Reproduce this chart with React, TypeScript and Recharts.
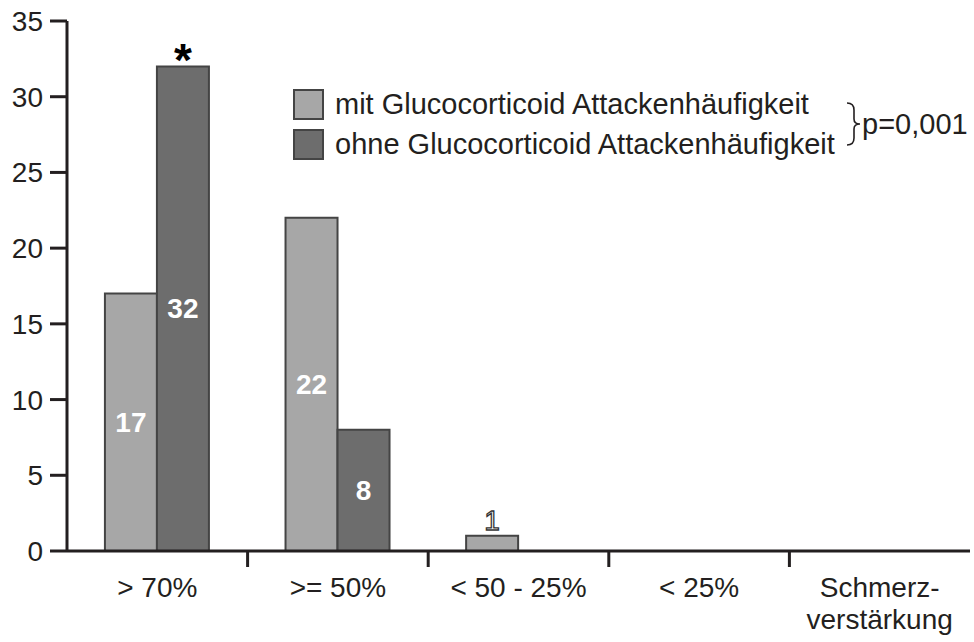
import React from 'react';
import { BarChart, Bar, XAxis, YAxis, Legend, LabelList } from 'recharts';

const categories = ['> 70%', '>= 50%', '< 50 - 25%', '< 25%', 'Schmerz-\nverstärkung'];
const mitValues = [17, 22, 1, 0, 0];
const ohneValues = [32, 8, 0, 0, 0];
const ohneMarks = ['*', '', '', '', ''];
const yTicks = [0, 5, 10, 15, 20, 25, 30, 35];
const seriesNames = ['mit Glucocorticoid Attackenhäufigkeit', 'ohne Glucocorticoid Attackenhäufigkeit'];
const pValue = 'p=0,001';

const W = 974;
const H = 642;
const MARGIN = { top: 21, right: 4, bottom: 11, left: 0 };
const Y_WIDTH = 67;
const FONT = '"Liberation Sans", Arial, sans-serif';
const INK = '#231f20';
const LIGHT = '#a7a7a7';
const DARK = '#6d6d6d';
const EDGE = '#444444';

const data = categories.map((name, i) => ({
    name,
    mit: mitValues[i],
    ohne: ohneValues[i],
    mark: ohneMarks[i],
}));

const halfBand = (W - Y_WIDTH - MARGIN.right) / categories.length / 2;

const XTick = (props: any) => {
    const { x, y, payload, index } = props;
    const lines = String(payload.value).split('\n');
    return (
        <g>
            {index < categories.length - 1 && (
                <line x1={x + halfBand} x2={x + halfBand} y1={y} y2={y + 16} stroke={INK} strokeWidth={3} />
            )}
            <text x={x} y={y + 46} textAnchor="middle" fill={INK} fontSize={28} fontFamily={FONT}>
                {lines.map((l, i) => (
                    <tspan key={i} x={x} dy={i === 0 ? 0 : 32}>{l}</tspan>
                ))}
            </text>
        </g>
    );
};

const valueLabel = (props: any) => {
    const { x, y, width, height, value } = props;
    if (!value) return null;
    const cx = x + width / 2;
    if (value <= 2) {
        // small bar: outlined number sitting above
        return (
            <text x={cx} y={y - 6} textAnchor="middle" fill="#ffffff" stroke="#333" strokeWidth={1.3}
                fontSize={28} fontFamily={FONT}>
                {value}
            </text>
        );
    }
    return (
        <text x={cx} y={y + height / 2} textAnchor="middle" dominantBaseline="central" fill="#ffffff"
            fontSize={28} fontWeight="bold" fontFamily={FONT}>
            {value}
        </text>
    );
};

const markLabel = (props: any) => {
    const { x, y, width, index } = props;
    const m = ohneMarks[index];
    if (!m) return null;
    return (
        <text x={x + width / 2} y={y + 10} textAnchor="middle" fill="#000" fontSize={46} fontWeight="bold"
            fontFamily={FONT}>
            {m}
        </text>
    );
};

const LegendBox = () => {
    const colors = [LIGHT, DARK];
    return (
        <div style={{ position: 'relative', width: W, height: 0, fontFamily: FONT, color: INK }}>
            {seriesNames.map((n, i) => (
                <div key={n}>
                    <div style={{
                        position: 'absolute', left: 293, top: 89 + i * 40, width: 27, height: 27,
                        background: colors[i], border: `2px solid ${EDGE}`,
                    }} />
                    <div style={{
                        position: 'absolute', left: 335, top: 86 + i * 40, fontSize: 29, lineHeight: '36px',
                        whiteSpace: 'nowrap',
                    }}>{n}</div>
                </div>
            ))}
            <svg style={{ position: 'absolute', left: 844, top: 100 }} width={20} height={50}>
                <path d="M3 3 Q10 3 10 10 L10 19 Q10 24 16 24 Q10 24 10 29 L10 38 Q10 45 3 45"
                    fill="none" stroke={INK} strokeWidth={1.6} />
            </svg>
            <div style={{
                position: 'absolute', left: 862, top: 106, fontSize: 29, lineHeight: '36px', whiteSpace: 'nowrap',
            }}>{pValue}</div>
        </div>
    );
};

export default function App() {
    return (
        <div style={{ position: 'absolute', left: 0, top: 0, background: '#fff' }}>
            <BarChart width={W} height={H} data={data} margin={MARGIN} barCategoryGap="21%" barGap={0}>
                <XAxis dataKey="name" axisLine={{ stroke: INK, strokeWidth: 3 }} tickLine={false}
                    tickSize={0} tickMargin={0} height={80} tick={<XTick />} interval={0} />
                <YAxis width={Y_WIDTH} domain={[0, 35]} ticks={yTicks} interval={0}
                    axisLine={{ stroke: INK, strokeWidth: 3 }} tickLine={{ stroke: INK, strokeWidth: 3 }}
                    tickSize={17} tickMargin={7}
                    tick={{ fill: INK, fontSize: 28, fontFamily: FONT }} />
                <Legend verticalAlign="top" content={<LegendBox />}
                    wrapperStyle={{ left: 0, top: 0, width: W, height: 0 }} />
                <Bar dataKey="mit" name={seriesNames[0]} fill={LIGHT} stroke={EDGE} strokeWidth={2}
                    isAnimationActive={false}>
                    <LabelList dataKey="mit" content={valueLabel} />
                </Bar>
                <Bar dataKey="ohne" name={seriesNames[1]} fill={DARK} stroke={EDGE} strokeWidth={2}
                    isAnimationActive={false}>
                    <LabelList dataKey="ohne" content={valueLabel} />
                    <LabelList dataKey="mark" content={markLabel} />
                </Bar>
            </BarChart>
        </div>
    );
}
